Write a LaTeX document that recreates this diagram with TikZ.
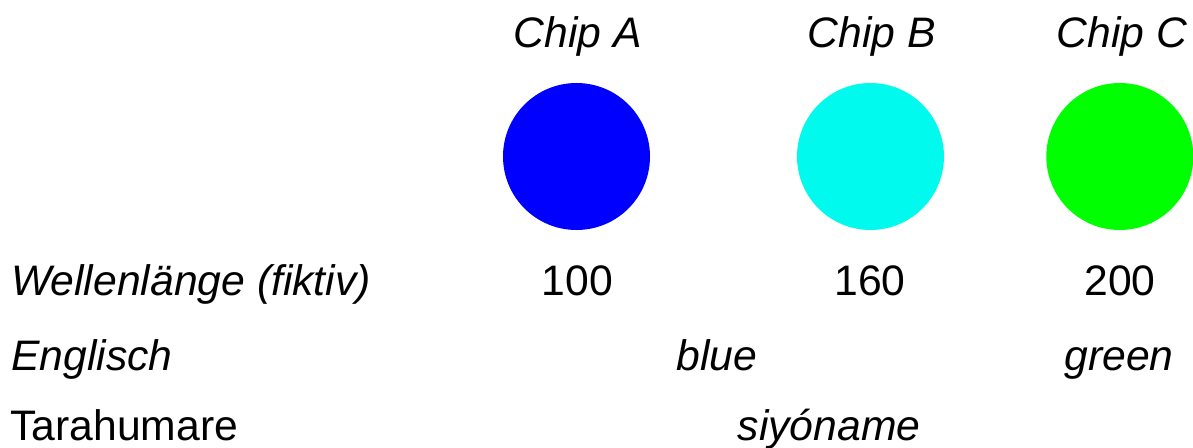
\documentclass[tikz,border=0pt]{standalone}
\usepackage{fontspec}
\setmainfont{Liberation Sans}
\usepackage{xcolor}
\usepackage{tikz}
\definecolor{chipblue}{rgb}{0,0,1}
\definecolor{chipcyan}{rgb}{0,0.98,0.93}
\definecolor{chipgreen}{rgb}{0,1,0}

\begin{document}
\begin{tikzpicture}[x=0.75pt, y=-0.75pt,
    lbl/.style={anchor=base, inner sep=0pt, font=\fontsize{32}{36}\selectfont},
    rowlbl/.style={lbl, anchor=base west},
    chip/.style={circle, inner sep=0pt, minimum size=110.25pt}
]
\useasboundingbox (0,0) rectangle (1193,448);

\node[lbl] (nameA) at (578,48) {\itshape Chip A};
\node[lbl] (nameB) at (872,48) {\itshape Chip B};
\node[lbl] (nameC) at (1122,48) {\itshape Chip C};

\node[chip, fill=chipblue] (dotA) at (576.5,156.5) {};
\node[chip, fill=chipcyan] (dotB) at (870.5,156.5) {};
\node[chip, fill=chipgreen] (dotC) at (1119.8,156.5) {};

\node[rowlbl] (wave) at (11,296) {\itshape Wellenlänge (fiktiv)};
\node[lbl] (waveA) at (577.5,296) {100};
\node[lbl] (waveB) at (870,296) {160};
\node[lbl] (waveC) at (1120,296) {200};

\node[rowlbl] (eng) at (11,371) {\itshape Englisch};
\node[lbl] (engAB) at (717,371) {\itshape blue};
\node[lbl] (engC) at (1119,371) {\itshape green};

\node[rowlbl] (tara) at (10,441) {Tarahumare};
\node[lbl] (taraABC) at (829,441) {\itshape siyóname};

\end{tikzpicture}
\end{document}
